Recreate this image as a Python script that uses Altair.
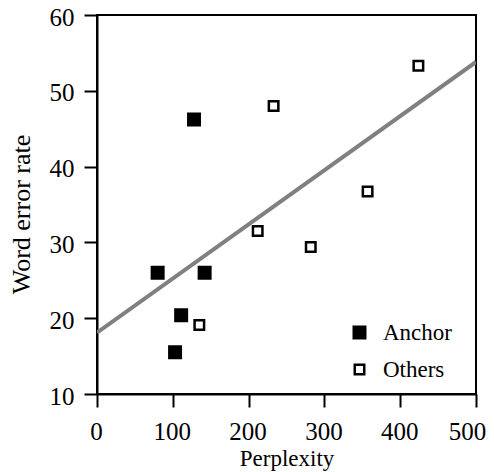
import altair as alt
import pandas as pd

anchor_x = [80, 103, 111, 128, 142]
anchor_y = [26.0, 15.5, 20.4, 46.2, 26.0]
others_x = [135, 212, 233, 282, 357, 424]
others_y = [19.1, 31.5, 48.0, 29.4, 36.7, 53.3]
fit_x = [0, 500]
fit_y = [18.1, 53.8]
x_ticks = [0, 100, 200, 300, 400, 500]
y_ticks = [10, 20, 30, 40, 50, 60]
groups = ["Anchor", "Others"]

pts = pd.DataFrame({
    "perplexity": anchor_x + others_x,
    "wer": anchor_y + others_y,
    "group": ["Anchor"] * len(anchor_x) + ["Others"] * len(others_x),
})
fit = pd.DataFrame({"perplexity": fit_x, "wer": fit_y})

FONT = "Liberation Serif"

xs = alt.Scale(domain=[0, 500], nice=False, zero=False)
ys = alt.Scale(domain=[10, 60], nice=False, zero=False)
xax = alt.Axis(values=x_ticks, title="Perplexity",
               labelOffset={"condition": {"test": "datum.value === 500", "value": -9}, "value": -1})
yax = alt.Axis(values=y_ticks, title="Word error rate", titleY=199, titleX=-68,
               titleBaseline="alphabetic", titleAngle=270)

def leg():
    return alt.Legend(title=None, orient="none", legendX=251, legendY=306,
                      padding=0, labelOffset=12, rowPadding=13,
                      labelFont=FONT, labelFontSize=23, labelColor="black",
                      symbolStrokeWidth=2.5, symbolStrokeColor="black")

line = alt.Chart(fit).mark_line(color="#808080", strokeWidth=4, clip=True).encode(
    x=alt.X("perplexity:Q", scale=xs, axis=xax),
    y=alt.Y("wer:Q", scale=ys, axis=yax),
)

points = alt.Chart(pts).mark_point(
    shape="square", filled=True, strokeWidth=2.5, opacity=1
).encode(
    x=alt.X("perplexity:Q", scale=xs, axis=xax),
    y=alt.Y("wer:Q", scale=ys, axis=yax),
    fill=alt.Fill("group:N", scale=alt.Scale(domain=groups, range=["black", "white"]), legend=leg()),
    stroke=alt.Stroke("group:N", scale=alt.Scale(domain=groups, range=["black", "black"]), legend=leg()),
    size=alt.Size("group:N", scale=alt.Scale(domain=groups, range=[132, 90]), legend=leg()),
)

chart = alt.layer(line, points).properties(
    width=379, height=379,
    autosize=alt.AutoSizeParams(type="none"),
    padding={"left": 89, "top": 7, "right": 10, "bottom": 78},
).configure_view(
    stroke="black", strokeWidth=2
).configure_axis(
    grid=False,
    domainColor="black", domainWidth=2,
    tickColor="black", tickWidth=2, tickSize=13,
    labelFont=FONT, labelFontSize=25, labelColor="black", labelFlush=False,
    titleFont=FONT, titleColor="black", titleFontWeight="normal",
).configure_axisX(
    labelPadding=12, titlePadding=3, titleFontSize=23,
).configure_axisY(
    labelPadding=10, labelOffset=2, titleFontSize=26,
)

chart.save("out.html", embed_options={"renderer": "svg", "actions": False})
